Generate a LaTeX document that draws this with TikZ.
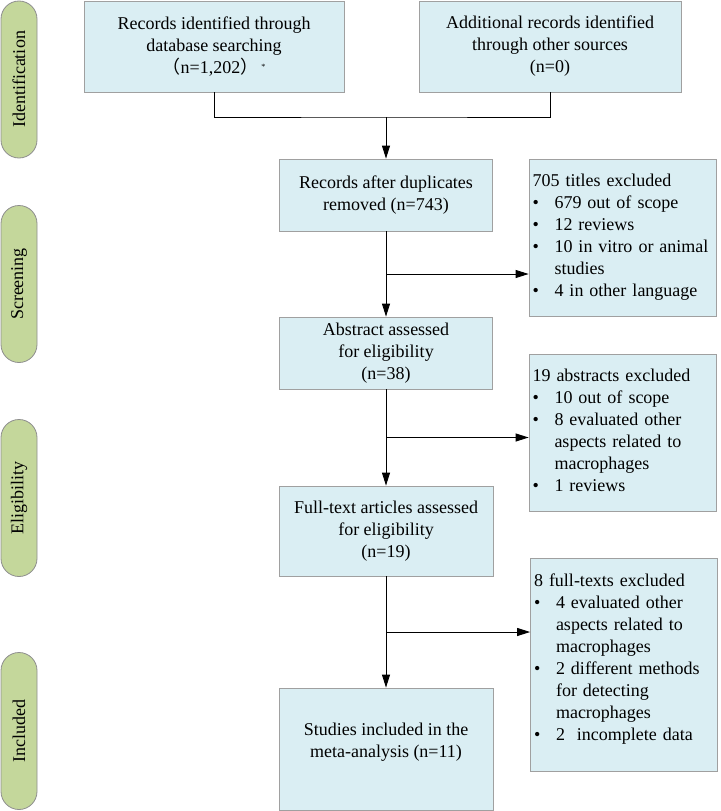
\documentclass[tikz,border=0pt]{standalone}
\usepackage{fontspec}
\setmainfont{Liberation Serif}
\newfontfamily\cjk{Noto Sans CJK SC}
\usetikzlibrary{arrows.meta,calc,shapes.misc}
\definecolor{boxblue}{HTML}{DAEEF3}
\definecolor{boxline}{HTML}{A0A0A0}
\definecolor{stagegreen}{HTML}{C4D79B}
\definecolor{stageline}{HTML}{8E8E8E}

\begin{document}
\begin{tikzpicture}[x=1pt, y=-1pt,
	txt/.style = {font=\fontsize{18}{22}\selectfont},
	box/.style = {txt, draw=boxline, fill=boxblue, line width=0.8pt, align=center, inner sep=2pt},
	exbox/.style = {box, align=left, inner xsep=3.5pt, inner ysep=0pt, text width=180pt, minimum width=187pt},
	stage/.style = {txt, rounded rectangle, draw=stageline, fill=stagegreen, line width=0.8pt, rotate=90, minimum width=157pt, minimum height=36pt, inner sep=0pt},
	link/.style = {line width=0.9pt},
	arr/.style = {link, -{Triangle[length=13pt,width=8pt]}}]
	\useasboundingbox (0,0) rectangle (720,811);
	\node[stage] (ident) at (19,79.5) {Identification};
	\node[stage] (screen) at (19,284) {Screening};
	\node[stage] (elig) at (19,498) {Eligibility};
	\node[stage] (incl) at (19,731) {Included};
	\node[box, minimum width=260pt, minimum height=91pt] (db) at (214,46.5) {Records identified through\\database searching\\{\cjk （}n=1,202{\cjk ）}\,\raisebox{4pt}{\fontsize{8}{8}\selectfont *}};
	\node[box, minimum width=262pt, minimum height=91pt] (other) at (550,46.5) {Additional records identified\\through other sources\\(n=0)};
	\node[box, minimum width=213pt, minimum height=72pt] (dup) at (386,195) {Records after duplicates\\removed (n=743)};
	\node[box, minimum width=213pt, minimum height=72pt] (abs) at (386,353) {Abstract assessed\\for eligibility\\(n=38)};
	\node[box, minimum width=214pt, minimum height=90pt] (full) at (386,531) {Full-text articles assessed\\for eligibility\\(n=19)};
	\node[box, minimum width=214pt, minimum height=122pt] (studies) at (386,749) {Studies included in the\\meta-analysis (n=11)\\[-4pt]\mbox{}};
	\node[exbox, minimum height=157pt] (ex1) at (622.5,237.5) {\noindent\begin{tabular}{@{}p{22pt}@{}l@{}}
		\multicolumn{2}{@{}l@{}}{705 titles excluded}\\
		\textbullet & 679 out of scope\\
		\textbullet & 12 reviews\\
		\textbullet & 10 in vitro or animal\\
		& studies\\
		\textbullet & 4 in other language
	\end{tabular}};
	\node[exbox, minimum height=157pt] (ex2) at (622.5,432.5) {\noindent\begin{tabular}{@{}p{22pt}@{}l@{}}
		\multicolumn{2}{@{}l@{}}{19 abstracts excluded}\\
		\textbullet & 10 out of scope\\
		\textbullet & 8 evaluated other\\
		& aspects related to\\
		& macrophages\\
		\textbullet & 1 reviews
	\end{tabular}};
	\node[exbox, minimum height=213pt] (ex3) at (624,664.5) {\noindent\begin{tabular}{@{}p{22pt}@{}l@{}}
		\multicolumn{2}{@{}l@{}}{8 full-texts excluded}\\
		\textbullet & 4 evaluated other\\
		& aspects related to\\
		& macrophages\\
		\textbullet & 2 different methods\\
		& for detecting\\
		& macrophages\\
		\textbullet & 2\ \ incomplete data\\[-12pt]
		& \mbox{}
	\end{tabular}};
	\coordinate (join) at (386,117);
	\coordinate (b1) at ($(dup.south)!.5!(abs.north)$);
	\coordinate (b2) at ($(abs.south)!.5!(full.north)$);
	\coordinate (b3) at ($(full.south)!.5!(studies.north)$);
	\draw[link] (db.south) |- (join) -| (other.south);
	\draw[arr] (join) -- (dup.north);
	\draw[arr] (dup) -- (abs);
	\draw[arr] (abs) -- (full);
	\draw[arr] (full) -- (studies);
	\draw[arr] (b1) -- (b1 -| ex1.west);
	\draw[arr] (b2) -- (b2 -| ex2.west);
	\draw[arr] (b3) -- (b3 -| ex3.west);
\end{tikzpicture}
\end{document}
